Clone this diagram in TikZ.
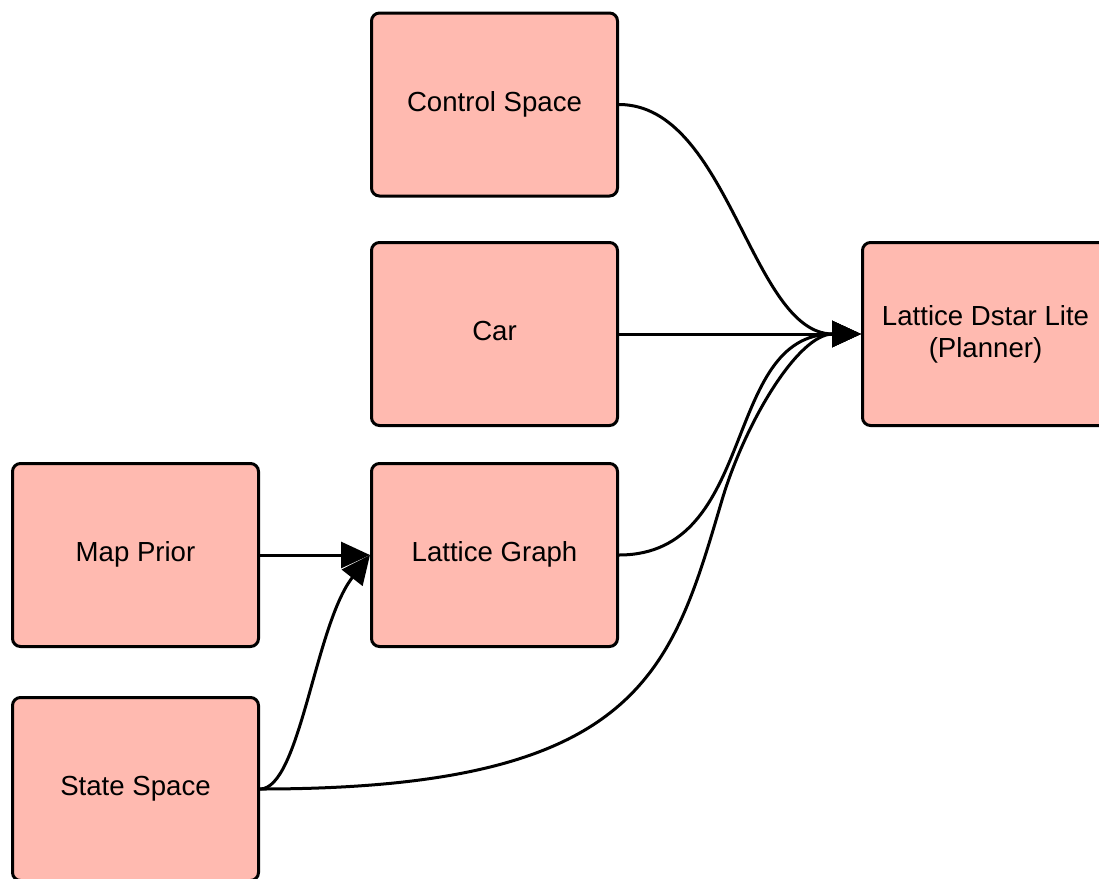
\documentclass[tikz,border=0pt]{standalone}
\usepackage{fontspec}
\setmainfont{Liberation Sans}
\usetikzlibrary{arrows.meta}
\definecolor{boxfill}{RGB}{255,186,176}
\begin{document}
\begin{tikzpicture}[x=1pt,y=-1pt,
  block/.style={draw=black, fill=boxfill, line width=3pt, rounded corners=8pt,
    minimum width=246pt, minimum height=183pt, inner sep=0pt, align=center,
    font=\fontsize{27.6}{32}\selectfont},
  oneline/.style={block, text height=22pt, text depth=9pt},
  conn/.style={line width=3pt, -{Triangle[length=29pt,width=26pt]}}]
\useasboundingbox (0,0) rectangle (1099,878);
\node[oneline] (cs) at (494.5,104.5) {Control Space};
\node[oneline] (car) at (494.5,334) {Car};
\node[block] (pl) at (985.5,334) {Lattice Dstar Lite\\(Planner)};
\node[oneline] (mp) at (135.5,555) {Map Prior};
\node[oneline] (lg) at (494.5,555) {Lattice Graph};
\node[oneline] (ss) at (135.5,789) {State Space};
\coordinate (m1) at (722,500);
\draw[conn] (cs.east) .. controls +(110,0) and +(-110,0) .. (pl.west);
\draw[conn] (car.east) -- (pl.west);
\draw[conn] (lg.east) .. controls +(140,0) and +(-140,0) .. (pl.west);
\draw[conn] (ss.east) .. controls (640,789) and (671,673) .. (m1) .. controls (745,423) and (798,334) .. (pl.west);
\draw[conn] (mp.east) -- (lg.west);
\draw[conn] (ss.east) .. controls +(40,0) and +(-55,70) .. (lg.west);
\end{tikzpicture}
\end{document}
